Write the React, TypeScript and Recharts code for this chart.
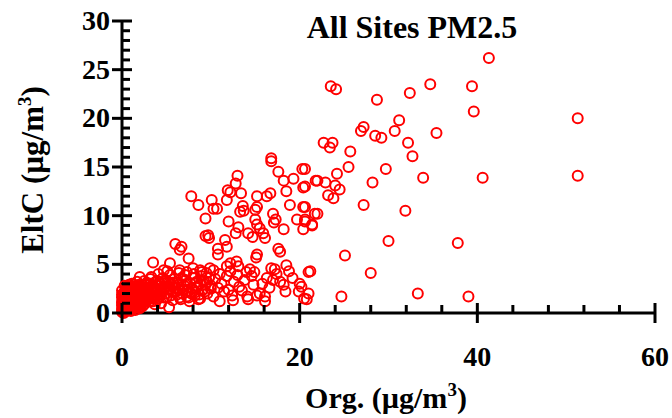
import { ScatterChart, Scatter, XAxis, YAxis } from 'recharts';

// Org. (x) vs EltC (y), ug/m3
const OUTER: [number, number][] = [
  [41.3, 26.2], [23.5, 23.3], [24.1, 23.0], [28.7, 21.9], [32.4, 22.6], [34.7, 23.5],
  [39.4, 23.3], [39.6, 20.7], [51.3, 20.0], [51.3, 14.1], [40.6, 13.9], [33.9, 13.9],
  [31.9, 10.5], [27.2, 11.1], [35.4, 18.5], [31.2, 19.8], [30.7, 18.7], [27.2, 19.1],
  [26.9, 18.7], [28.5, 18.2], [29.2, 18.0], [32.2, 17.5], [32.7, 16.1], [29.7, 14.8],
  [28.2, 13.4], [25.7, 16.6], [25.5, 15.0], [24.2, 14.3], [22.7, 17.5], [23.7, 17.5],
  [23.4, 17.0], [22.0, 13.6], [22.9, 13.4], [24.0, 13.1], [24.5, 12.7], [23.2, 12.1],
  [23.8, 11.8], [20.6, 14.8], [20.6, 13.0], [20.6, 10.9], [22.0, 10.2], [20.6, 9.6],
  [21.4, 9.0], [25.1, 5.9], [24.7, 1.7], [28.0, 4.1], [30.0, 7.4], [33.3, 2.0],
  [37.8, 7.2], [39.0, 1.7], [20.2, 2.7], [20.5, 1.5], [21.2, 4.3],
];

const MIDDLE: [number, number][] = [
  [16.8, 15.9], [16.8, 15.6], [20.3, 14.8], [17.6, 14.5], [13.0, 14.1], [19.3, 13.8],
  [18.2, 13.6], [21.8, 13.6], [20.4, 12.9], [12.8, 13.3], [11.9, 12.6], [12.2, 12.4],
  [13.4, 12.3], [18.5, 12.5], [7.8, 12.0], [15.2, 12.0], [16.3, 12.0], [16.7, 12.3],
  [10.1, 11.6], [11.8, 11.6], [8.6, 11.1], [10.7, 10.7], [10.3, 10.7], [13.6, 11.0],
  [13.3, 10.4], [13.7, 10.5], [15.2, 10.9], [15.0, 10.6], [18.9, 11.1], [20.4, 10.9],
  [21.7, 10.2], [17.0, 10.2], [9.4, 9.7], [12.0, 9.4], [15.0, 9.6], [15.2, 9.1],
  [17.1, 9.3], [17.3, 9.6], [19.7, 9.6], [20.6, 9.4], [21.4, 9.1], [20.4, 8.6],
  [13.1, 8.8], [12.8, 8.2], [14.2, 8.2], [14.7, 7.8], [15.5, 8.7], [15.9, 8.2],
  [16.1, 7.7], [18.2, 8.6], [9.4, 7.9], [9.7, 8.0], [9.8, 7.7], [11.6, 7.5],
  [11.8, 6.8], [10.8, 6.6], [10.8, 6.0], [6.0, 7.1], [6.7, 6.8], [6.5, 6.5],
  [17.6, 6.6], [17.8, 6.3], [15.2, 6.0], [15.1, 5.7], [3.5, 5.2], [5.4, 5.1],
  [7.5, 5.6], [12.9, 5.3], [12.2, 5.1], [11.8, 4.8], [13.1, 4.8], [18.5, 4.9],
  [14.4, 4.5], [14.9, 4.2], [14.0, 4.2], [14.6, 3.8], [17.2, 4.5], [17.4, 4.0],
  [21.0, 4.2], [16.3, 3.6], [17.0, 3.4], [8.8, 4.4], [9.5, 4.1], [8.0, 4.6],
  [10.3, 4.4], [4.7, 4.4], [6.5, 4.4], [7.3, 4.2], [2.0, 3.7], [3.2, 3.5],
  [20.0, 3.0], [19.9, 2.2], [21.0, 2.0], [20.8, 1.4], [18.4, 2.2], [18.2, 2.9],
  [15.5, 2.0], [16.1, 1.7], [15.2, 1.8], [16.1, 1.2], [14.1, 1.7], [14.2, 1.4],
  [12.4, 1.8], [12.5, 1.3], [11.0, 1.2], [10.3, 1.7], [8.2, 1.8], [8.8, 1.5],
  [9.0, 2.3], [6.5, 1.6], [7.3, 1.7], [5.3, 0.6], [10.5, 3.5], [11.2, 3.0],
  [11.8, 3.8], [12.6, 3.2], [13.2, 2.7], [13.8, 3.4], [10.8, 2.6], [12.0, 2.4],
  [9.6, 3.2], [10.0, 2.8], [11.5, 2.2], [13.5, 2.3], [16.6, 2.6], [17.8, 3.2],
  [15.8, 3.0], [14.8, 2.9], [19.2, 3.6], [18.8, 4.3], [16.8, 4.6], [13.0, 3.9],
  [11.0, 4.0], [12.2, 4.3],
];

const CLUSTER: [number, number][] = [
  [0.1, 0.2], [0.2, 0.5], [0.3, 0.9], [0.2, 1.3], [0.4, 1.7], [0.3, 2.1], [0.5, 2.5],
  [0.6, 0.3], [0.7, 0.8], [0.8, 1.2], [0.5, 1.5], [0.9, 1.9], [0.6, 2.2], [1.0, 2.7],
  [0.4, 0.6], [0.1, 1.0], [0.15, 1.5], [0.2, 2.0], [0.8, 0.5], [1.0, 1.0], [0.9, 1.5],
  [0.7, 2.6], [0.3, 2.8], [0.5, 1.0], [0.6, 1.8], [0.1, 0.7], [0.05, 1.2], [0.4, 2.4],
  [0.8, 2.3], [1.0, 0.2], [1.2, 0.6], [1.4, 1.1], [1.3, 1.6], [1.5, 2.0], [1.6, 2.5],
  [1.8, 0.9], [1.9, 1.4], [2.0, 1.8], [2.2, 2.3], [2.1, 2.8], [2.4, 1.1], [2.5, 1.6],
  [2.6, 2.0], [2.7, 2.5], [2.9, 3.0], [1.1, 3.0], [1.7, 3.2], [2.3, 0.7], [2.8, 1.3],
  [3.0, 1.9], [1.5, 0.3], [2.0, 0.5], [1.3, 2.3], [2.5, 3.3], [2.9, 2.2], [3.1, 1.2],
  [3.2, 2.4], [3.4, 1.7], [3.5, 2.8], [3.6, 2.1], [3.8, 3.2], [3.9, 1.4], [4.0, 2.5],
  [4.2, 1.9], [4.3, 3.0], [4.5, 2.3], [4.6, 3.6], [4.7, 1.6], [4.9, 2.7], [5.0, 2.0],
  [5.2, 3.2], [5.3, 2.5], [5.5, 1.8], [5.6, 2.9], [5.8, 2.2], [5.9, 3.5], [3.3, 3.7],
  [4.1, 4.0], [5.1, 4.3], [5.7, 1.3], [3.7, 0.9], [4.4, 1.0], [5.4, 3.9], [6.0, 2.6],
  [6.2, 1.9], [6.3, 3.1], [6.5, 2.4], [6.7, 3.6], [6.8, 2.0], [7.0, 2.8], [7.2, 3.4],
  [7.4, 2.3], [7.5, 1.6], [7.7, 3.0], [7.9, 2.5], [8.0, 3.6], [8.2, 2.1], [8.4, 3.2],
  [8.5, 2.7], [8.7, 1.9], [8.9, 3.8], [9.1, 2.4], [9.2, 3.3], [9.4, 2.9], [9.6, 2.0],
  [9.8, 3.6], [10.0, 2.5], [6.4, 4.1], [7.1, 3.9], [8.1, 4.0], [9.0, 4.2], [7.6, 1.2],
  [6.6, 1.4], [8.6, 1.4], [9.9, 4.6],
];

// the solid blob at the origin
const ORIGIN: [number, number][] = [
  [0.0, 0.1], [0.0, 0.4], [0.0, 0.8], [0.0, 1.1], [0.0, 1.6], [0.0, 1.9], [0.0, 2.3],
  [0.2, 0.0], [0.3, 0.3], [0.3, 1.1], [0.4, 1.4], [0.5, 0.2], [0.5, 0.7], [0.6, 1.2],
  [0.6, 2.7], [0.7, 1.6], [0.7, 2.0], [0.8, 2.9], [0.9, 0.9], [0.9, 2.5], [1.0, 1.3],
  [1.0, 2.1], [1.1, 0.4], [1.1, 0.8], [1.1, 1.7], [1.2, 2.6], [1.2, 1.2], [1.3, 0.9],
  [1.3, 2.9], [1.4, 1.9], [1.4, 0.5], [1.5, 1.4], [1.5, 2.7], [1.6, 0.7], [1.6, 1.7],
  [1.7, 2.2], [1.7, 1.1], [1.8, 2.6], [1.8, 1.9], [1.9, 0.6], [1.9, 2.9], [2.0, 1.2],
  [2.0, 2.4], [2.1, 1.5], [2.2, 1.9], [2.2, 0.9], [2.3, 2.7], [2.3, 1.4], [2.4, 2.1],
  [2.5, 0.9], [2.6, 2.9], [2.6, 1.3], [2.7, 1.8], [2.8, 2.2], [2.8, 3.1], [3.0, 1.5],
  [3.0, 2.6], [3.1, 2.1], [3.2, 3.0], [3.3, 1.5], [3.4, 2.3], [3.5, 1.2], [3.6, 2.7],
  [3.7, 1.8], [3.8, 2.4], [4.0, 3.3], [4.1, 1.5], [4.2, 2.8], [4.4, 2.0], [4.5, 3.1],
  [4.7, 2.5], [4.8, 3.3], [5.0, 1.6], [5.2, 2.8], [5.5, 2.4], [5.7, 3.1], [6.1, 2.2],
  [6.4, 2.9], [6.9, 2.4], [7.3, 3.0], [7.8, 2.0], [8.3, 2.6], [8.8, 3.0], [9.3, 2.2],
];

const X_DOMAIN: [number, number] = [0, 60];
const Y_DOMAIN: [number, number] = [0, 30];
const X_TICKS = [0, 4, 8, 12, 16, 20, 24, 28, 32, 36, 40, 44, 48, 52, 56, 60];
const Y_TICKS = Array.from({ length: 31 }, (_, i) => i);

const points = [...ORIGIN, ...CLUSTER, ...MIDDLE, ...OUTER].map(([org, eltc]) => ({ org, eltc }));

const FONT = '"Liberation Serif", "Times New Roman", serif';

// chart box
const W = 672;
const H = 418;
const M = { top: 21, right: 17, left: 0, bottom: 0 };
const Y_AXIS_W = 122;
const X_AXIS_H = 105;
const PLOT = {
  left: M.left + Y_AXIS_W,
  right: W - M.right,
  top: M.top,
  bottom: H - M.bottom - X_AXIS_H,
};
const sx = (v: number) => PLOT.left + ((v - X_DOMAIN[0]) / (X_DOMAIN[1] - X_DOMAIN[0])) * (PLOT.right - PLOT.left);
const sy = (v: number) => PLOT.bottom - ((v - Y_DOMAIN[0]) / (Y_DOMAIN[1] - Y_DOMAIN[0])) * (PLOT.bottom - PLOT.top);

const renderXTick = (props: any) => {
  const x = Number(props.x);
  const y = Number(props.y);
  const v = props.payload.value;
  if (v % 20 !== 0) return <g key={`xt-${v}`} />;
  return (
    <text key={`xt-${v}`} x={x} y={y + 53} textAnchor="middle" fontFamily={FONT} fontWeight="bold" fontSize={28} fill="#000">
      {v}
    </text>
  );
};

const renderYTick = (props: any) => {
  const x = Number(props.x);
  const y = Number(props.y);
  const v = props.payload.value;
  if (v % 5 !== 0) return <g key={`yt-${v}`} />;
  return (
    <text key={`yt-${v}`} x={x - 12} y={y + 9} textAnchor="end" fontFamily={FONT} fontWeight="bold" fontSize={28} fill="#000">
      {v}
    </text>
  );
};

const Ring = (p: any) => (
  <circle cx={p.cx} cy={p.cy} r={5} fill="none" stroke="#ff0000" strokeWidth={2} />
);

export default function App() {
  return (
    <div style={{ position: 'absolute', left: 0, top: 0, width: W, height: H, background: '#fff' }}>
      <ScatterChart width={W} height={H} margin={M}>
        <XAxis
          type="number"
          dataKey="org"
          domain={X_DOMAIN}
          ticks={X_TICKS}
          interval={0}
          height={X_AXIS_H}
          tickSize={0}
          tickMargin={0}
          tick={renderXTick}
          tickLine={false}
          axisLine={{ stroke: '#000', strokeWidth: 3 }}
        />
        <YAxis
          type="number"
          dataKey="eltc"
          domain={Y_DOMAIN}
          ticks={Y_TICKS}
          interval={0}
          width={Y_AXIS_W}
          tickSize={0}
          tickMargin={0}
          tick={renderYTick}
          tickLine={false}
          axisLine={{ stroke: '#000', strokeWidth: 3 }}
        />
        <Scatter data={points} shape={Ring} isAnimationActive={false} />
        <text x={412} y={38} textAnchor="middle" fontFamily={FONT} fontWeight="bold" fontSize={32} fill="#000">
          All Sites PM2.5
        </text>
        <text x={386} y={408} textAnchor="middle" fontFamily={FONT} fontWeight="bold" fontSize={30} fill="#000">
          Org. (µg/m<tspan dy={-12} fontSize={19}>3</tspan><tspan dy={12}>)</tspan>
        </text>
        <text transform="translate(43,170) rotate(-90)" textAnchor="middle" fontFamily={FONT} fontWeight="bold" fontSize={31} fill="#000">
          EltC (µg/m<tspan dy={-12} fontSize={19}>3</tspan><tspan dy={12}>)</tspan>
        </text>
      </ScatterChart>
      {/* tick marks: majors cross the axis, minors point inward */}
      <svg width={W} height={H} style={{ position: 'absolute', left: 0, top: 0, pointerEvents: 'none' }}>
        {X_TICKS.map((v) => {
          const major = v % 20 === 0;
          return (
            <line key={`xm-${v}`} x1={sx(v)} x2={sx(v)} y1={PLOT.bottom - (major ? 10 : 8)} y2={PLOT.bottom + (major ? 10 : 0)}
              stroke="#000" strokeWidth={3} />
          );
        })}
        {Y_TICKS.map((v) => {
          const major = v % 5 === 0;
          return (
            <line key={`ym-${v}`} x1={PLOT.left - (major ? 10 : 0)} x2={PLOT.left + (major ? 10 : 8)} y1={sy(v)} y2={sy(v)}
              stroke="#000" strokeWidth={3} />
          );
        })}
      </svg>
    </div>
  );
}
